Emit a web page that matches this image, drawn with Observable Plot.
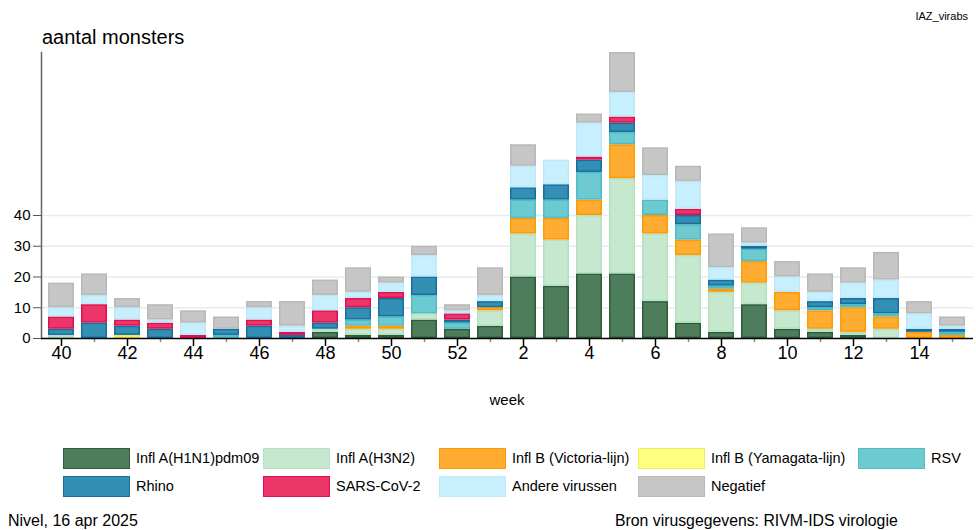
<!DOCTYPE html>
<html><head><meta charset="utf-8">
<script src="https://cdn.jsdelivr.net/npm/d3@7"></script>
<script src="https://cdn.jsdelivr.net/npm/@observablehq/plot@0.6"></script>
<style>
body{margin:0;background:#fff;font-family:"Liberation Sans",Arial,sans-serif;}
#wrap{position:relative;width:976px;height:530px;overflow:hidden;background:#fff;}
#chart{position:absolute;left:0;top:0;}
.t{position:absolute;white-space:nowrap;color:#000;line-height:1;}
.sw{position:absolute;box-sizing:border-box;border:1.5px solid;}
</style></head><body>
<div id="wrap">
  <div id="chart"></div>
  <div class="t" style="left:42px;top:27px;font-size:20px;">aantal monsters</div>
  <div class="t" style="right:8px;top:11px;font-size:11px;">IAZ_virabs</div>
  <div class="t" style="left:41px;width:932px;text-align:center;top:392px;font-size:15px;">week</div>
  <div id="legend"></div>
  <div class="t" style="left:8px;top:513px;font-size:16px;">Nivel, 16 apr 2025</div>
  <div class="t" style="left:615px;top:513px;font-size:15.8px;">Bron virusgegevens: RIVM-IDS virologie</div>
</div>
<script>
const weeks = ["40","41","42","43","44","45","46","47","48","49","50","51","52","1","2","3","4","5","6","7","8","9","10","11","12","13","14","15"];
const seriesNames = ["Infl A(H1N1)pdm09","Infl A(H3N2)","Infl B (Victoria-lijn)","Infl B (Yamagata-lijn)","RSV","Rhino","SARS-CoV-2","Andere virussen","Negatief"];
const fillColors = ["#4e7d5b","#c5e8cf","#ffac33","#ffff80","#6ecad1","#338fb3","#ec3569","#c7effd","#c6c6c6"];
const strokeColors = ["#2d5c3a","#b5e0c2","#ff9a00","#f0ec60","#4fbcc6","#13709f","#e01050","#bde9f9","#b8b8b8"];

const h1n1     = [0,0,0,0,0,0,0,0,2,1,1,6,3,4,20,17,21,21,12,5,2,11,3,2,1,0,0,0];
const h3n2     = [1,0,0,0,0,0,0,0,1,2,2,2,0,5,14,15,19,31,22,22,13,7,6,1,1,3,0,0];
const victoria = [0,0,0,0,0,0,0,0,0,1,1,0,0,1,5,7,5,11,6,5,1,7,6,6,8,4,2,1];
const yamagata = [0,0,1,0,0,0,0,0,0,0,0,0,0,0,0,0,0,0,0,0,0,0,0,0,0,0,0,0];
const rsv      = [0,0,0,0,0,1,0,0,0,2,3,6,2,0,6,6,9,4,5,5,1,4,0,1,1,1,0,1];
const rhino    = [2,5,3,3,0,2,4,1,2,4,6,6,1,2,4,5,4,3,0,3,2,1,0,2,2,5,1,1];
const sars     = [4,6,2,2,1,0,2,1,4,3,2,0,2,0,0,0,1,2,0,2,0,0,0,0,0,0,0,0];
const andere   = [3,3,4,1,4,0,4,2,5,2,3,7,1,2,7,8,11,8,8,9,4,1,5,3,5,6,5,1];
const negatief = [8,7,3,5,4,4,2,8,5,8,2,3,2,9,7,0,3,13,9,5,11,5,5,6,5,9,4,3];

const yTicks = [0,10,20,30,40];
const gridTicks = [10,20,30,40];
const labeledWeeks = ["40","42","44","46","48","50","52","2","4","6","8","10","12","14"];
const otherWeeks = weeks.filter(w => !labeledWeeks.includes(w));

const seriesValues = [h1n1,h3n2,victoria,yamagata,rsv,rhino,sars,andere,negatief];
const fillOf = Object.fromEntries(seriesNames.map((s,i)=>[s,fillColors[i]]));
const strokeOf = Object.fromEntries(seriesNames.map((s,i)=>[s,strokeColors[i]]));
const data = [];
seriesValues.forEach((arr, si) => arr.forEach((v, i) => {
  if (v > 0) data.push({week: weeks[i], series: seriesNames[si], value: v});
}));

const chart = Plot.plot({
  width: 976, height: 415,
  marginLeft: 41, marginRight: 3, marginTop: 52, marginBottom: 77,
  x: {domain: weeks, paddingInner: 0.2, paddingOuter: 0, align: 0.5, axis: null, label: null},
  y: {domain: [0, 93], axis: null, label: null},
  color: {type: "identity"},
  style: {fontFamily: "'Liberation Sans', Arial, sans-serif", color: "#000", background: "transparent", overflow: "visible"},
  marks: [
    Plot.gridY(gridTicks, {stroke: "#e4ecef", strokeOpacity: 1, strokeWidth: 1.5}),
    Plot.barY(data, {x: "week", y: "value", z: "series", order: seriesNames,
      fill: d => fillOf[d.series], stroke: d => strokeOf[d.series], strokeWidth: 1.5, inset: 0.75}),
    Plot.frame({anchor: "left", stroke: "#666", strokeWidth: 1.5}),
    Plot.axisY(yTicks, {tickSize: 8, tickPadding: 3, fontSize: 15, stroke: "#555", label: null}),
    Plot.axisX(labeledWeeks, {tickSize: 8, tickPadding: 0, fontSize: 18, stroke: "#000", strokeWidth: 1.5, label: null}),
    Plot.axisX(otherWeeks, {tickSize: 4, tickFormat: () => "", stroke: "#888", strokeWidth: 1.5, label: null}),
    Plot.ruleY([0], {stroke: "#000", strokeWidth: 1.5})
  ]
});
document.getElementById("chart").appendChild(chart);

const legend = document.getElementById("legend");
const textX = [136, 336, 512, 711, 931];
seriesNames.forEach((s, i) => {
  const row = Math.floor(i / 5), col = i % 5;
  const top = 448 + row * 28;
  const sw = document.createElement("div");
  sw.className = "sw";
  sw.style.left = (textX[col] - 73) + "px";
  sw.style.top = top + "px";
  sw.style.width = "67px";
  sw.style.height = "21px";
  sw.style.background = fillColors[i];
  sw.style.borderColor = strokeColors[i];
  legend.appendChild(sw);
  const tx = document.createElement("div");
  tx.className = "t";
  tx.style.left = textX[col] + "px";
  tx.style.top = (top + 3) + "px";
  tx.style.fontSize = "14.5px";
  tx.textContent = s;
  legend.appendChild(tx);
});
</script>
</body></html>
